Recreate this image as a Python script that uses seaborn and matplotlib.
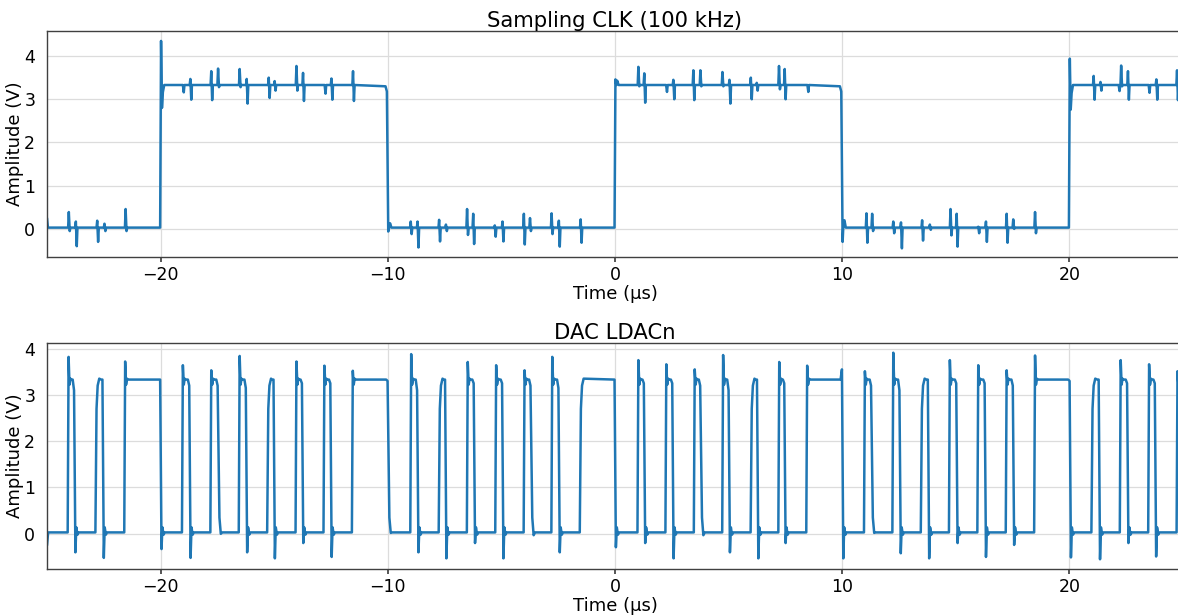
import numpy as np
import pandas as pd
import seaborn as sns
import matplotlib
matplotlib.use("Agg")
import matplotlib.pyplot as plt

# ---------------- Sampling clock (100 kHz) ----------------
clk_low = 0.03
clk_high = 3.33
clk_start = 0.25                      # value at the first sample (t = -25 us)
clk_edge_t = [-20.0, -10.0, 0.0, 10.0, 20.0]
clk_edge_peak = [4.35, -0.06, 3.46, -0.30, 3.94]   # overshoot right after each edge
clk_edge_ring = [2.80, 0.03, 3.33, 0.17, 2.76]     # first ring-back after the overshoot

# coupled glitches on the clock line: time, upper excursion, lower excursion
clk_glitch_t = [-24.04, -23.73, -22.79, -22.47, -21.54,
                -19.02, -18.69, -17.77, -17.47, -16.52, -16.21, -15.24, -14.98,
                -14.02, -13.73, -12.78, -12.48, -11.53,
                -8.99, -8.69, -7.74, -7.44, -6.51, -6.24, -5.29, -4.95,
                -4.01, -3.74, -2.79, -2.47, -1.51,
                1.03, 1.29, 2.25, 2.57, 3.45, 3.76, 4.73, 5.04, 5.98, 6.24,
                7.22, 7.47, 8.47,
                11.07, 11.32, 12.25, 12.59, 13.52, 13.86, 14.77, 15.04,
                15.99, 16.33, 17.24, 17.53, 18.49,
                21.07, 21.37, 22.17, 22.28, 22.58, 23.49, 23.83, 24.74]
clk_glitch_hi = [0.39, 0.17, 0.19, 0.12, 0.46,
                 3.33, 3.47, 3.65, 3.71, 3.70, 3.47, 3.50, 3.42,
                 3.77, 3.61, 3.33, 3.48, 3.65,
                 0.17, 0.17, 0.21, 0.10, 0.46, 0.35, 0.08, 0.17,
                 0.35, 0.25, 0.36, 0.19, 0.22,
                 3.75, 3.60, 3.33, 3.45, 3.67, 3.67, 3.63, 3.45, 3.50, 3.38,
                 3.77, 3.70, 3.33,
                 0.36, 0.35, 0.17, 0.15, 0.20, 0.10, 0.46, 0.35,
                 0.05, 0.17, 0.35, 0.22, 0.39,
                 3.54, 3.40, 3.33, 3.78, 3.65, 3.33, 3.46, 3.67]
clk_glitch_lo = [-0.05, -0.40, -0.30, -0.05, -0.05,
                 3.16, 2.99, 2.98, 3.28, 3.28, 2.90, 3.03, 3.20,
                 3.20, 2.96, 3.13, 2.99, 2.96,
                 -0.12, -0.43, -0.29, -0.05, -0.14, -0.35, -0.18, -0.29,
                 -0.36, -0.05, -0.12, -0.41, -0.32,
                 3.30, 2.92, 3.17, 3.00, 2.98, 3.30, 3.30, 2.90, 3.00, 3.20,
                 3.23, 3.00, 3.17,
                 -0.32, -0.05, -0.10, -0.45, -0.27, -0.02, -0.15, -0.41,
                 -0.10, -0.30, -0.32, 0.00, -0.10,
                 2.99, 3.20, 3.19, 3.30, 2.99, 3.15, 2.99, 2.98]

# ---------------- DAC LDACn ----------------
ldac_low = 0.03
ldac_high = 3.33
ldac_start = -0.25
ldac_rebound = 0.14
ldac_rise = [-24.08, -22.86, -21.59, -19.05, -17.80, -16.55, -15.30, -14.05, -12.82,
             -11.57, -9.00, -7.75, -6.51, -5.26, -4.01, -2.79, -1.54, 1.00, 2.23,
             3.48, 4.73, 5.98, 7.20, 8.43, 10.97, 12.22, 13.47, 14.71, 15.96,
             17.21, 18.46, 20.98, 22.23, 23.48, 24.73]
ldac_fall = [-23.79, -22.54, -20.00, -18.72, -17.47, -16.23, -15.01, -13.76, -12.51,
             -9.99, -8.69, -7.46, -6.20, -4.95, -3.70, -2.47, 0.00, 1.29, 2.54,
             3.77, 5.02, 6.27, 7.47, 10.01, 11.29, 12.54, 13.79, 15.04, 16.29,
             17.53, 20.03, 21.31, 22.56, 23.78, np.nan]
ldac_peak = [3.82, 3.35, 3.72, 3.64, 3.53, 3.84, 3.35, 3.72, 3.63,
             3.52, 3.88, 3.35, 3.71, 3.64, 3.53, 3.82, 3.35, 3.75, 3.66,
             3.55, 3.86, 3.35, 3.71, 3.63, 3.51, 3.91, 3.35, 3.75, 3.64,
             3.53, 3.85, 3.35, 3.75, 3.66, 3.51]
ldac_soft_rise = [False, True, False, False, False, False, True, False, False,
                  False, False, True, False, False, False, False, True, False, False,
                  False, False, True, False, False, False, False, True, False, False,
                  False, False, True, False, False, False]
ldac_prefall = [3.10, 3.33, 3.33, 3.20, 3.20, 3.15, 3.33, 3.25, 3.25,
                3.30, 3.10, 3.33, 3.25, 3.25, 3.20, 3.15, 3.33, 3.25, 3.25,
                3.20, 3.10, 3.33, 3.25, 3.55, 3.20, 3.10, 3.33, 3.25, 3.25,
                3.20, 3.30, 3.33, 3.25, 3.25, 3.33]
ldac_trough = [-0.40, -0.52, -0.33, -0.52, -0.02, -0.40, -0.53, -0.20, -0.50,
               0.00, -0.40, -0.53, -0.20, -0.53, -0.05, -0.40, -0.29, -0.20, -0.53,
               -0.05, -0.40, -0.53, -0.20, -0.53, 0.00, -0.42, -0.53, -0.20, -0.50,
               -0.24, -0.51, -0.55, -0.20, -0.49, 0.00]

T_START, T_END = -25.0, 25.0


def clock_trace():
    edges = np.array(clk_edge_t)

    def level(t):
        return clk_high if np.sum(edges <= t) % 2 == 1 else clk_low

    pts = [(T_START, clk_start), (T_START + 0.04, clk_low)]
    for e, p, r in zip(clk_edge_t, clk_edge_peak, clk_edge_ring):
        pre, post = level(e - 1e-3), level(e + 1e-3)
        if pre > post:
            pts.append((e - 0.10, pre - 0.03))
            pts.append((e - 0.04, pre - 0.15))
        else:
            pts.append((e - 0.02, pre))
        pts += [(e + 0.02, p), (e + 0.06, r), (e + 0.10, (r + post) / 2 + 0.1), (e + 0.16, post)]
    for t, hi, lo in zip(clk_glitch_t, clk_glitch_hi, clk_glitch_lo):
        b = level(t)
        pts += [(t - 0.03, b), (t, hi), (t + 0.04, lo), (t + 0.07, b)]
    pts.append((T_END, level(T_END)))
    pts.sort(key=lambda p: p[0])
    return pd.DataFrame(pts, columns=["t", "v"])


def ldac_trace():
    pts = [(T_START, ldac_start), (T_START + 0.05, ldac_low)]
    for r, f, pk, soft, pre, tr in zip(ldac_rise, ldac_fall, ldac_peak,
                                       ldac_soft_rise, ldac_prefall, ldac_trough):
        pts.append((r - 0.01, ldac_low))
        if soft:
            pts += [(r + 0.04, 2.70), (r + 0.09, 3.20), (r + 0.16, pk)]
        else:
            pts += [(r + 0.03, pk), (r + 0.07, 3.22), (r + 0.11, 3.35), (r + 0.15, ldac_high)]
        if np.isnan(f):
            pts.append((T_END, ldac_high))
            continue
        pts += [(f - 0.08, ldac_high), (f - 0.02, pre)]
        if tr < -0.05:
            pts += [(f + 0.04, tr), (f + 0.08, ldac_rebound), (f + 0.13, -0.02), (f + 0.18, ldac_low)]
        else:
            pts += [(f + 0.06, 0.35), (f + 0.12, tr + 0.02), (f + 0.18, ldac_low)]
    pts.sort(key=lambda p: p[0])
    return pd.DataFrame(pts, columns=["t", "v"])


sns.set_theme(style="whitegrid", rc={
    "axes.edgecolor": "#404040",
    "axes.linewidth": 1.0,
    "grid.color": "#dcdcdc",
    "grid.linewidth": 0.9,
    "xtick.bottom": True,
    "ytick.left": False,
    "xtick.color": "#404040",
    "ytick.color": "#404040",
    "xtick.labelcolor": "black",
    "ytick.labelcolor": "black",
    "xtick.major.size": 3.5,
    "text.color": "black",
    "axes.labelcolor": "black",
})
plt.rcParams["font.family"] = ["DejaVu Sans"]

fig = plt.figure(figsize=(11.78, 6.16), dpi=100)
ax1 = fig.add_axes([0.0399, 0.5828, 0.9643, 0.3669])
ax2 = fig.add_axes([0.0399, 0.0763, 0.9643, 0.3669])

panels = [
    (ax1, clock_trace(), "Sampling CLK (100 kHz)", (-0.65, 4.58)),
    (ax2, ldac_trace(), "DAC LDACn", (-0.76, 4.12)),
]
for ax, df, title, ylim in panels:
    sns.lineplot(data=df, x="t", y="v", ax=ax, color="#1f77b4", linewidth=1.8,
                 estimator=None, sort=False)
    ax.set_xlim(T_START, T_END)
    ax.set_ylim(*ylim)
    ax.set_xticks([-20, -10, 0, 10, 20])
    ax.set_yticks([0, 1, 2, 3, 4])
    ax.tick_params(labelsize=12.5, pad=3)
    ax.tick_params(axis="y", pad=2.5)
    ax.set_title(title, fontsize=15.2, pad=1.5)
    ax.set_xlabel("Time (µs)", fontsize=13, labelpad=1)
    ax.set_ylabel("Amplitude (V)", fontsize=13, labelpad=0.5)
    for side in ("top", "left", "bottom", "right"):
        ax.spines[side].set_visible(True)

fig.savefig("out.png", dpi=100)
